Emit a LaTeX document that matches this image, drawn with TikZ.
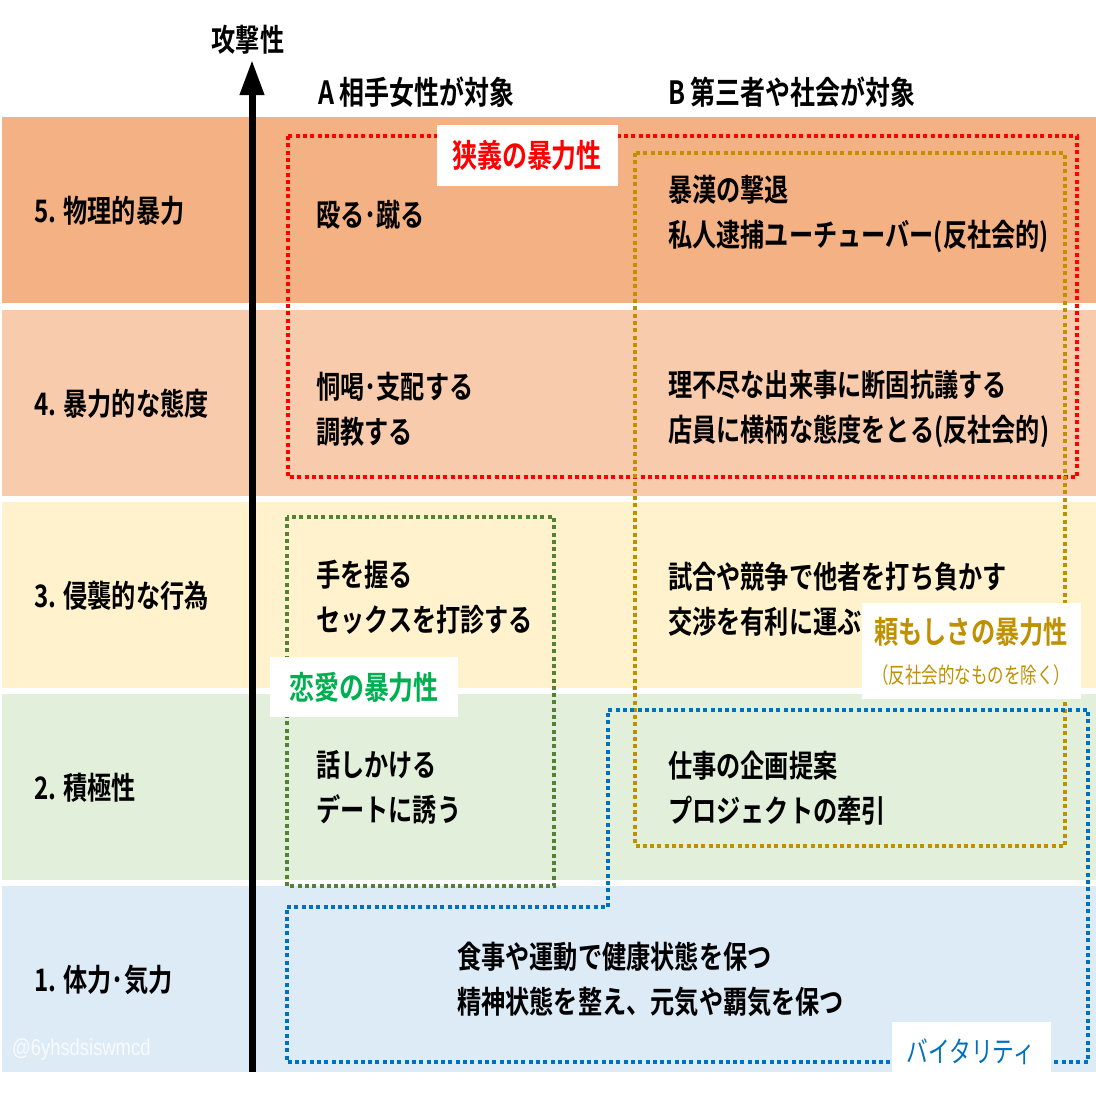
\documentclass[tikz,border=0pt]{standalone}
\usepackage{fontspec}
\usetikzlibrary{arrows.meta}
\newfontfamily\jpb[FakeStretch=0.78]{Noto Sans CJK JP Bold}
\newfontfamily\jpr[FakeStretch=0.75]{Noto Sans CJK JP}
\newfontfamily\markfont[FakeStretch=0.8]{Liberation Sans}

\definecolor{bandfive}{HTML}{F4B183}
\definecolor{bandfour}{HTML}{F8CBAD}
\definecolor{bandthree}{HTML}{FFF2CC}
\definecolor{bandtwo}{HTML}{E2EFDA}
\definecolor{bandone}{HTML}{DDEBF7}
\definecolor{narrowred}{HTML}{FF0000}
\definecolor{lovegreen}{HTML}{00B050}
\definecolor{boxgreen}{HTML}{548235}
\definecolor{reliablegold}{HTML}{BF9000}
\definecolor{vitalblue}{HTML}{0070C0}

\tikzset{
  body/.style={font=\jpb\fontsize{31}{45}\selectfont, anchor=west, align=left, inner sep=0pt},
  dotbox/.style={line width=4pt, dash pattern=on 4pt off 3.3pt},
  tagbox/.style={fill=white, inner sep=0pt, align=center},
}

\begin{document}
\begin{tikzpicture}[x=1pt, y=-1pt]
  \useasboundingbox[fill=white] (0,0) rectangle (1096,1096);

  % bands and levels
  \foreach \n/\col/\top/\txt in {5/bandfive/117/5. 物理的暴力, 4/bandfour/310/4. 暴力的な態度,
      3/bandthree/502/3. 侵襲的な行為, 2/bandtwo/694/2. 積極性, 1/bandone/886/1. 体力･気力} {
    \fill[\col] (2,\top) rectangle (1096,\top+186);
    \node[body] (level\n) at (34,\top+94) {\txt};
  }

  % axis
  \coordinate (base) at (252,1072);
  \coordinate (tip) at (252,60);
  \draw[line width=7pt, -{Triangle[length=35pt, width=23pt]}] (base) -- (tip);
  \node[font=\jpb\fontsize{31}{31}\selectfont, inner sep=0pt] (axis) at (248,40) {攻撃性};

  \node[body, font=\jpb\fontsize{32}{32}\selectfont] (headA) at (318,92) {A 相手女性が対象};
  \node[body, font=\jpb\fontsize{32}{32}\selectfont] (headB) at (668,92) {B 第三者や社会が対象};

  % dotted groups
  \draw[dotbox, narrowred] (288,136) rectangle (1077,477);
  \draw[dotbox, reliablegold] (635,153) rectangle (1065,846);
  \draw[dotbox, boxgreen] (287,517) rectangle (554,886);
  \draw[dotbox, vitalblue] (287,907) -- (608,907) -- (608,710) -- (1088,710) -- (1088,1062) -- (287,1062) -- cycle;

  % A column
  \node[body] (a5) at (316,215) {殴る･蹴る};
  \node[body] (a4) at (316,409) {恫喝･支配する\\調教する};
  \node[body] (a3) at (316,597) {手を握る\\セックスを打診する};
  \node[body] (a2) at (316,787) {話しかける\\デートに誘う};

  % B column
  \node[body] (b5) at (668,214) {暴漢の撃退\\私人逮捕ユーチューバー(反社会的)};
  \node[body] (b4) at (668,409) {理不尽な出来事に断固抗議する\\店員に横柄な態度をとる(反社会的)};
  \node[body] (b3) at (668,599) {試合や競争で他者を打ち負かす\\交渉を有利に運ぶ};
  \node[body] (b2) at (668,788) {仕事の企画提案\\プロジェクトの牽引};

  \node[body] (ab1) at (457,979) {食事や運動で健康状態を保つ\\精神状態を整え、元気や覇気を保つ};

  % labels
  \node[tagbox, minimum width=181pt, minimum height=61pt, text=narrowred,
    font=\jpb\fontsize{32}{32}\selectfont] (narrow) at (527,155) {狭義の暴力性};
  \node[tagbox, minimum width=188pt, minimum height=60pt, text=lovegreen,
    font=\jpb\fontsize{32}{32}\selectfont] (love) at (364,687) {恋愛の暴力性};
  \node[tagbox, minimum width=219pt, minimum height=96pt, text=reliablegold,
    font=\jpb\fontsize{31}{40}\selectfont] (reliable) at (971,651)
    {頼もしさの暴力性\\{\jpr\fontsize{22}{26}\selectfont （反社会的なものを除く）}};
  \node[tagbox, minimum width=159pt, minimum height=60pt, text=vitalblue,
    font=\jpr\fontsize{29}{29}\selectfont] (vital) at (971,1052) {バイタリティ};

  \node[anchor=west, inner sep=0pt, text=white, opacity=0.8,
    font=\markfont\fontsize{23}{23}\selectfont] (mark) at (12,1050) {@6yhsdsiswmcd};
\end{tikzpicture}
\end{document}
